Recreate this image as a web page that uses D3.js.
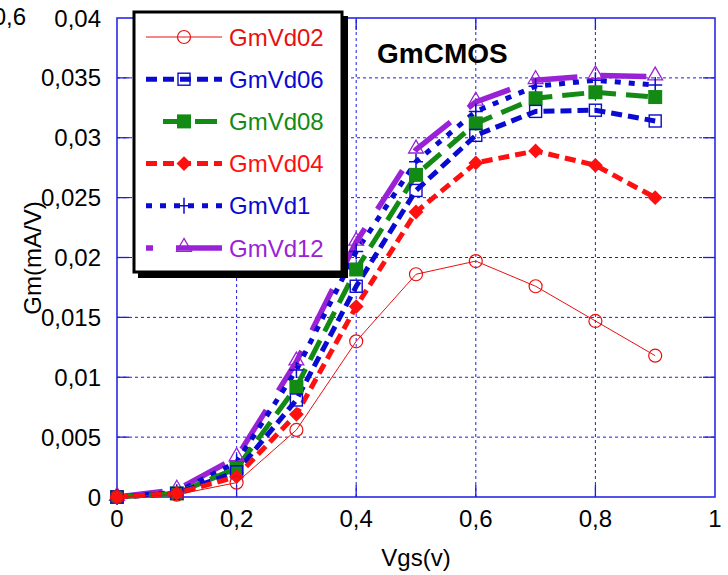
<!DOCTYPE html>
<html>
<head>
<meta charset="utf-8">
<script src="https://cdn.jsdelivr.net/npm/d3@7"></script>
<style>
  body { margin: 0; background: #fff; }
  svg text { font-family: "Liberation Sans", Arial, sans-serif; }
</style>
</head>
<body>
<svg id="chart" width="728" height="575"></svg>
<script>
// data
const vgs = [0, 0.1, 0.2, 0.3, 0.4, 0.5, 0.6, 0.7, 0.8, 0.9];
const gmVd02 = [0, 0.0002, 0.0012, 0.0056, 0.0130, 0.0186, 0.0197, 0.0176, 0.0147, 0.0118];
const gmVd04 = [0, 0.0003, 0.0017, 0.0069, 0.0159, 0.0238, 0.0279, 0.0289, 0.0277, 0.0250];
const gmVd06 = [0, 0.0003, 0.0021, 0.0081, 0.0176, 0.0256, 0.0302, 0.0322, 0.0323, 0.0314];
const gmVd08 = [0, 0.0003, 0.0024, 0.0092, 0.0190, 0.0269, 0.0312, 0.0333, 0.0338, 0.0334];
const gmVd1  = [0, 0.0004, 0.0029, 0.0106, 0.0205, 0.0280, 0.0322, 0.0343, 0.0348, 0.0344];
const gmVd12 = [0, 0.0006, 0.0033, 0.0113, 0.0213, 0.0290, 0.0330, 0.0348, 0.0352, 0.0351];

const xTicks = [0, 0.2, 0.4, 0.6, 0.8, 1];
const yTicks = [0, 0.005, 0.01, 0.015, 0.02, 0.025, 0.03, 0.035, 0.04];

const legendOrder = ["GmVd02", "GmVd06", "GmVd08", "GmVd04", "GmVd1", "GmVd12"];

// styles per series
const series = [
  { name: "GmVd12", values: gmVd12, color: "#9a22d6", width: 5.5, dash: "46,23", marker: "triangle" },
  { name: "GmVd1",  values: gmVd1,  color: "#0a0ad0", width: 5,   dash: "6,8",   marker: "plus" },
  { name: "GmVd08", values: gmVd08, color: "#138a13", width: 5,   dash: "22,10", marker: "fsquare" },
  { name: "GmVd06", values: gmVd06, color: "#0a0ad0", width: 5,   dash: "11,6",  marker: "osquare" },
  { name: "GmVd04", values: gmVd04, color: "#ff1010", width: 5,   dash: "11,6",  marker: "diamond" },
  { name: "GmVd02", values: gmVd02, color: "#e81010", width: 1,   dash: null,    marker: "circle" }
];

const svg = d3.select("#chart");
const x = d3.scaleLinear().domain([0, 1]).range([117, 715]);
const y = d3.scaleLinear().domain([0, 0.04]).range([497, 18]);
const fmt = d => String(d).replace(".", ",");
const gridColor = "#1c1ce0";

// grid
svg.append("g").selectAll("line").data(xTicks.slice(1, -1)).join("line")
  .attr("x1", d => x(d)).attr("x2", d => x(d)).attr("y1", y(0)).attr("y2", y(0.04))
  .attr("stroke", gridColor).attr("stroke-width", 1).attr("stroke-dasharray", "3,3");
svg.append("g").selectAll("line").data(yTicks.slice(1, -1)).join("line")
  .attr("y1", d => y(d)).attr("y2", d => y(d)).attr("x1", x(0)).attr("x2", x(1))
  .attr("stroke", gridColor).attr("stroke-width", 1).attr("stroke-dasharray", "3,3");

// frame
svg.append("rect").attr("x", x(0)).attr("y", y(0.04))
  .attr("width", x(1) - x(0)).attr("height", y(0) - y(0.04))
  .attr("fill", "none").attr("stroke", "#2a2ae6").attr("stroke-width", 1.6);

// inner tick marks on all four sides
const tk = 12;
const ticksG = svg.append("g").attr("stroke", gridColor).attr("stroke-width", 1.3);
xTicks.slice(1, -1).forEach(v => {
  ticksG.append("line").attr("x1", x(v)).attr("x2", x(v)).attr("y1", y(0)).attr("y2", y(0) - tk);
  ticksG.append("line").attr("x1", x(v)).attr("x2", x(v)).attr("y1", y(0.04)).attr("y2", y(0.04) + tk);
});
yTicks.slice(1, -1).forEach(v => {
  ticksG.append("line").attr("y1", y(v)).attr("y2", y(v)).attr("x1", x(0)).attr("x2", x(0) + tk);
  ticksG.append("line").attr("y1", y(v)).attr("y2", y(v)).attr("x1", x(1)).attr("x2", x(1) - tk);
});

// tick labels
svg.append("g").selectAll("text").data(xTicks).join("text")
  .attr("x", d => x(d)).attr("y", 527).attr("text-anchor", "middle")
  .attr("font-size", 24).text(fmt);
svg.append("g").selectAll("text").data(yTicks).join("text")
  .attr("x", 101).attr("y", d => y(d) + 8.5).attr("text-anchor", "end")
  .attr("font-size", 24).text(fmt);

// stray label cut off at the left edge
svg.append("text").attr("x", 26).attr("y", 25).attr("text-anchor", "end")
  .attr("font-size", 24).text("0,6");

// axis titles
svg.append("text").attr("x", 416).attr("y", 566).attr("text-anchor", "middle")
  .attr("font-size", 24).text("Vgs(v)");
svg.append("text").attr("transform", "translate(41,258) rotate(-90)")
  .attr("text-anchor", "middle").attr("font-size", 24).text("Gm(mA/V)");

svg.append("text").attr("x", 377).attr("y", 63).attr("font-size", 28)
  .attr("font-weight", "bold").text("GmCMOS");

// markers
function drawMarker(g, type, cx, cy, color) {
  if (type === "circle") {
    g.append("circle").attr("cx", cx).attr("cy", cy).attr("r", 6.5)
      .attr("fill", "none").attr("stroke", color).attr("stroke-width", 1.2);
  } else if (type === "osquare") {
    g.append("rect").attr("x", cx - 6).attr("y", cy - 6).attr("width", 12).attr("height", 12)
      .attr("fill", "none").attr("stroke", color).attr("stroke-width", 1.4);
  } else if (type === "fsquare") {
    g.append("rect").attr("x", cx - 7).attr("y", cy - 7).attr("width", 14).attr("height", 14)
      .attr("fill", color);
  } else if (type === "diamond") {
    g.append("path").attr("d", d3.symbol(d3.symbolSquare, 110)())
      .attr("transform", `translate(${cx},${cy}) rotate(45)`).attr("fill", color);
  } else if (type === "triangle") {
    g.append("path").attr("d", d3.symbol(d3.symbolTriangle, 95)())
      .attr("transform", `translate(${cx},${cy - 1})`)
      .attr("fill", "none").attr("stroke", color).attr("stroke-width", 1.3);
  } else if (type === "plus") {
    g.append("path").attr("d", `M${cx - 7},${cy}H${cx + 7}M${cx},${cy - 8}V${cy + 8}`)
      .attr("stroke", color).attr("stroke-width", 1.5);
  }
}

const line = d3.line().x(d => x(d[0])).y(d => y(d[1]));
const plot = svg.append("g");
series.forEach(s => {
  const pts = vgs.map((v, i) => [v, s.values[i]]);
  plot.append("path").datum(pts).attr("d", line)
    .attr("fill", "none").attr("stroke", s.color).attr("stroke-width", s.width)
    .attr("stroke-dasharray", s.dash);
});
series.forEach(s => {
  const g = plot.append("g");
  vgs.forEach((v, i) => drawMarker(g, s.marker, x(v), y(s.values[i]), s.color));
});

// legend
const lg = svg.append("g");
lg.append("rect").attr("x", 138).attr("y", 16).attr("width", 210).attr("height", 262).attr("fill", "#000");
lg.append("rect").attr("x", 134).attr("y", 12).attr("width", 208).attr("height", 260)
  .attr("fill", "#fff").attr("stroke", "#000").attr("stroke-width", 3);
const legendY = d3.scalePoint().domain(legendOrder).range([37, 248]);
legendOrder.forEach(name => {
  const s = series.find(d => d.name === name);
  const ly = legendY(name);
  let ls = lg.append("line").attr("x1", 146).attr("x2", 222).attr("y1", ly).attr("y2", ly)
    .attr("stroke", s.color).attr("stroke-width", s.width).attr("stroke-dasharray", s.dash);
  if (name === "GmVd12") ls.attr("stroke-dashoffset", 39);
  if (name === "GmVd08") ls.attr("x1", 163);
  drawMarker(lg, s.marker, 184, ly, s.color);
  lg.append("text").attr("x", 229).attr("y", ly + 8.5).attr("font-size", 24)
    .attr("fill", s.color).text(name);
});
</script>
</body>
</html>
